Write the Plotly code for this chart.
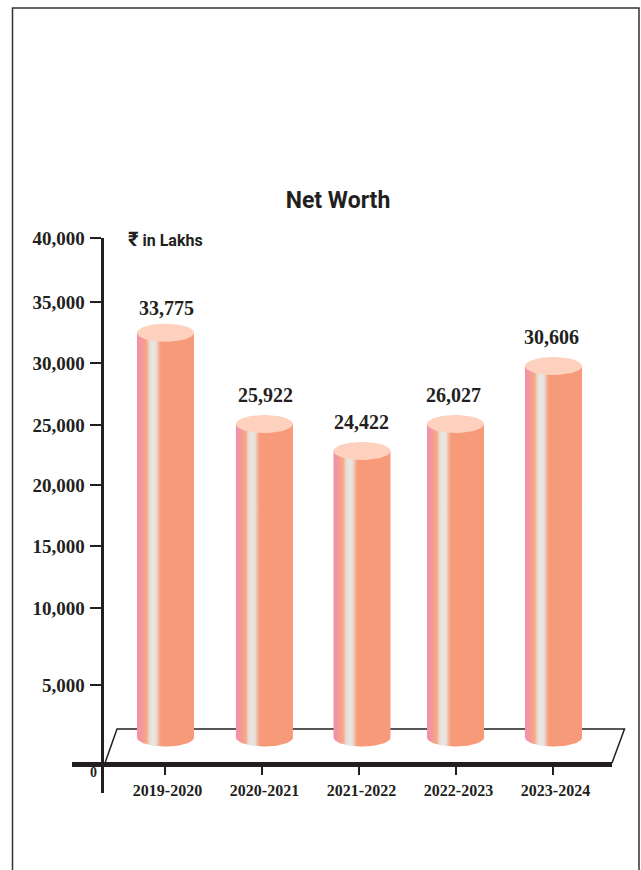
import numpy as np
import plotly.graph_objects as go

W, H = 641, 870
TOP = 10  # plotly keeps this much clear above the plot area here

# Data
years = ["2019-2020", "2020-2021", "2021-2022", "2022-2023", "2023-2024"]
net_worth = [33775, 25922, 24422, 26027, 30606]
# the printed bars do not follow their labels, so this is where each top sits on the drawn axis
bar_tops = [32320, 24920, 22730, 24920, 29620]
bar_base = -500

# the printed ticks are unevenly spaced too
tick_text = ["5,000", "10,000", "15,000", "20,000", "25,000", "30,000", "35,000", "40,000"]
tick_vals = [3730, 10000, 15030, 19970, 24840, 29840, 34810, 40000]

# bars and labels were placed by hand, slightly off their ticks (category units)
bar_x = [0.01, 1.03, 2.036, 3.0, 4.01]
label_x = [0.02, 1.04, 2.03, 2.98, 3.99]
label_gaps = [300, 620, 620, 620, 620]  # space between cap and value label, in axis units

INK = "#231f20"
BAR = "#f79a79"
CAP = "#fdd1be"
BAR_SHADE = [
    [0.0, "#f192a8"], [0.06, "#f294a6"], [0.12, "#f6a085"], [0.17, "#f4a98c"], [0.22, "#ebd9d0"],
    [0.27, "#e8e6e3"], [0.33, "#e9e2dc"], [0.4, "#f5a688"], [0.43, BAR], [1.0, BAR],
]
half_w = 0.294   # bar half width, in category units
rim = 730        # ellipse half height, in axis units


def px_x(v):
    return v / W


def px_y(v):
    return 1 - (v - TOP) / (H - TOP)


fig = go.Figure()

t = np.linspace(0, np.pi, 40)
for c, top in zip(bar_x, bar_tops):
    # cylinder body: round bottom edge, straight sides, cap drawn over the top
    body_x = np.concatenate([c - half_w * np.cos(t), [c + half_w, c - half_w, c - half_w]])
    body_y = np.concatenate([bar_base - rim * np.sin(t), [top, top, bar_base]])
    fig.add_trace(go.Scatter(
        x=body_x, y=body_y, mode="lines", fill="toself", line=dict(width=0),
        fillgradient=dict(type="horizontal", colorscale=BAR_SHADE,
                          start=c - half_w, stop=c + half_w),
        hoverinfo="skip", showlegend=False,
    ))
    a = np.linspace(0, 2 * np.pi, 80)
    fig.add_trace(go.Scatter(
        x=c + half_w * np.cos(a), y=top + rim * np.sin(a), mode="lines", fill="toself",
        line=dict(width=0), fillcolor=CAP, hoverinfo="skip", showlegend=False,
    ))

# Value labels above the caps
fig.add_trace(go.Scatter(
    x=label_x, y=[v + rim + g for v, g in zip(bar_tops, label_gaps)],
    mode="text", text=[f"{v:,}" for v in net_worth], textposition="top center",
    textfont=dict(family="Liberation Serif", size=20, color=INK, weight="bold"),
    hoverinfo="skip", showlegend=False,
))

fig.update_layout(
    width=W, height=H,
    margin=dict(l=0, r=0, t=0, b=0),
    paper_bgcolor="white", plot_bgcolor="rgba(0,0,0,0)",
    title=dict(
        text="<b>Net Worth</b>", x=px_x(338), xanchor="center", y=1 - 200 / H, yanchor="middle",
        font=dict(family="Roboto", size=23, color=INK),
    ),
    xaxis=dict(
        domain=[px_x(72), px_x(612)], anchor="free", position=px_y(764),
        range=[(72 - 164.5) / 97, (612 - 164.5) / 97],
        tickmode="array", tickvals=list(range(len(years))), ticktext=years,
        ticks="outside", ticklen=8, tickwidth=1.5, tickcolor=INK,
        showline=True, linewidth=4.5, linecolor=INK, showgrid=False, zeroline=False,
        ticklabelshift=3, ticklabelstandoff=2,
        tickfont=dict(family="Liberation Serif", size=16, color=INK, weight="bold"),
    ),
    yaxis=dict(
        domain=[px_y(793), px_y(238)], anchor="free", position=px_x(101.5),
        range=[10000 - (793 - 608) / 0.012333, 40000],
        tickmode="array", tickvals=tick_vals, ticktext=tick_text,
        ticks="outside", ticklen=11, tickwidth=1.5, tickcolor=INK, ticklabelstandoff=1,
        showline=True, linewidth=3, linecolor=INK, showgrid=False, zeroline=False,
        tickfont=dict(family="Liberation Serif", size=19, color=INK, weight="bold"),
    ),
    shapes=[
        # page frame, open at the bottom edge of the crop
        dict(type="rect", xref="paper", yref="paper", x0=px_x(12.5), x1=px_x(639), y0=-0.02, y1=px_y(8),
             line=dict(color="#333333", width=1.5)),
        # floor under the cylinders
        dict(type="path", xref="paper", yref="paper", layer="below",
             path=f"M {px_x(105)} {px_y(763)} L {px_x(117)} {px_y(729)} L {px_x(624.5)} {px_y(729)} L {px_x(612)} {px_y(763)}",
             line=dict(color=INK, width=1.5)),
    ],
    annotations=[
        dict(text="0", xref="paper", yref="paper", x=px_x(93), y=px_y(772), xanchor="center", yanchor="middle",
             showarrow=False, font=dict(family="Liberation Serif", size=14, color=INK, weight="bold")),
        dict(text="<b><span style='font-size:20px'>₹</span> in Lakhs</b>", xref="paper", yref="paper",
             x=px_x(126), y=px_y(239), xanchor="left", yanchor="middle", showarrow=False,
             font=dict(family="Roboto", size=16, color=INK)),
    ],
)

# the page's default body margin would push the figure 8px off
fig.write_html("out.html", config=dict(displayModeBar=False),
               post_script="document.body.style.margin = '0';")
